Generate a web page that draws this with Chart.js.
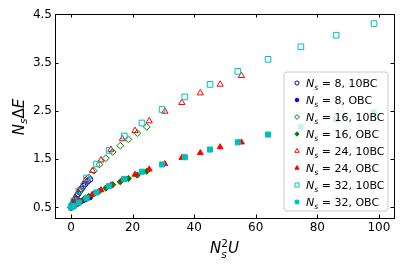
<!DOCTYPE html>
<html>
<head>
<meta charset="utf-8">
<script src="https://cdn.jsdelivr.net/npm/chart.js@4/dist/chart.umd.min.js"></script>
<style>
  html, body { margin: 0; padding: 0; background: #fff; }
  canvas { display: block; }
</style>
</head>
<body>
<canvas id="chart" width="407" height="271"></canvas>
<script>
// x = Ns^2 U for each system size
const x8 = [0.006, 0.058, 0.16, 0.31, 0.52, 0.77, 1.08, 1.44, 1.85, 2.31, 2.82, 3.39, 4.0, 4.67, 5.38, 6.15];
const x16 = [0.026, 0.23, 0.64, 1.25, 2.07, 3.10, 4.33, 5.76, 7.40, 9.24, 11.29, 13.54, 16.0, 18.66, 21.53, 24.6];
const x24 = [0.06, 0.52, 1.44, 2.82, 4.67, 6.97, 9.73, 12.96, 16.65, 20.79, 25.4, 30.47, 36.0, 41.99, 48.44, 55.35];
const x32 = [0.10, 0.92, 2.56, 5.02, 8.29, 12.39, 17.31, 23.04, 29.59, 36.97, 45.16, 54.17, 64.0, 74.65, 86.12, 98.41];

// Ns * dE, 10BC and OBC
const y8o = [0.50, 0.51, 0.52, 0.54, 0.57, 0.60, 0.64, 0.68, 0.73, 0.78, 0.83, 0.88, 0.94, 0.99, 1.04, 1.08];
const y8f = [0.50, 0.50, 0.51, 0.51, 0.52, 0.53, 0.54, 0.56, 0.57, 0.59, 0.61, 0.63, 0.65, 0.67, 0.69, 0.71];
const y16o = [0.50, 0.53, 0.58, 0.66, 0.76, 0.87, 0.99, 1.12, 1.26, 1.39, 1.52, 1.65, 1.78, 1.91, 2.04, 2.17];
const y16f = [0.50, 0.51, 0.53, 0.56, 0.59, 0.63, 0.68, 0.73, 0.78, 0.84, 0.90, 0.97, 1.03, 1.10, 1.17, 1.25];
const y24o = [0.51, 0.57, 0.70, 0.87, 1.06, 1.26, 1.48, 1.70, 1.92, 2.09, 2.29, 2.49, 2.67, 2.87, 3.05, 3.23];
const y24f = [0.50, 0.52, 0.56, 0.62, 0.69, 0.77, 0.86, 0.96, 1.07, 1.18, 1.29, 1.40, 1.53, 1.63, 1.75, 1.85];
const y32o = [0.52, 0.63, 0.84, 1.11, 1.40, 1.68, 1.98, 2.25, 2.53, 2.79, 3.05, 3.32, 3.57, 3.83, 4.07, 4.31];
const y32f = [0.50, 0.53, 0.60, 0.69, 0.81, 0.94, 1.09, 1.24, 1.39, 1.54, 1.70, 1.85, 2.01, 2.17, 2.32, 2.47];

const seriesNs = [8, 8, 16, 16, 24, 24, 32, 32];
const seriesBC = ['10BC', 'OBC', '10BC', 'OBC', '10BC', 'OBC', '10BC', 'OBC'];
const xTicks = [0, 20, 40, 60, 80, 100];
const yTicks = [0.5, 1.5, 2.5, 3.5, 4.5];

const FONT = '"DejaVu Sans", sans-serif';
const styles = [
  { shape: 'circle', color: '#0000ff', filled: false, r: 2.8 },
  { shape: 'circle', color: '#0000ff', filled: true, r: 2.5 },
  { shape: 'rectRot', color: '#008000', filled: false, r: 3.4 },
  { shape: 'rectRot', color: '#008000', filled: true, r: 3.1 },
  { shape: 'triangle', color: '#ff0000', filled: false, r: 3.6 },
  { shape: 'triangle', color: '#ff0000', filled: true, r: 3.4 },
  { shape: 'rect', color: '#00bfbf', filled: false, r: 4.0 },
  { shape: 'rect', color: '#00bfbf', filled: true, r: 3.6 }
];

const xsList = [x8, x8, x16, x16, x24, x24, x32, x32];
const ysList = [y8o, y8f, y16o, y16f, y24o, y24f, y32o, y32f];

const datasets = ysList.map((ys, i) => {
  const st = styles[i];
  return {
    data: xsList[i].map((x, j) => ({ x: x, y: ys[j] })),
    pointStyle: st.shape,
    pointRadius: st.r,
    pointBorderWidth: 1,
    pointBorderColor: st.color,
    pointBackgroundColor: st.filled ? st.color : 'rgba(0,0,0,0)',
    order: 7 - i
  };
});

// simple mathtext-like rendering
function partFont(p, size) {
  return (p.it ? 'italic ' : '') + (size * (p.scale || 1)) + 'px ' + FONT;
}

function layoutParts(ctx, parts, size) {
  let x = 0, total = 0;
  const items = [];
  for (const p of parts) {
    ctx.font = partFont(p, size);
    const w = ctx.measureText(p.t).width;
    items.push({ p: p, x: x, w: w });
    if (!p.hold) x += w;
    total = Math.max(total, p.hold ? x + w : x);
  }
  return { items: items, width: total };
}

function drawParts(ctx, parts, x, y, size, center) {
  const lay = layoutParts(ctx, parts, size);
  const x0 = center ? x - lay.width / 2 : x;
  ctx.textBaseline = 'alphabetic';
  ctx.textAlign = 'left';
  for (const it of lay.items) {
    ctx.font = partFont(it.p, size);
    ctx.fillText(it.p.t, x0 + it.x, y + (it.p.dy || 0) * size);
  }
}

function drawMarker(ctx, st, x, y, r) {
  ctx.beginPath();
  if (st.shape === 'circle') {
    ctx.arc(x, y, r, 0, Math.PI * 2);
  } else if (st.shape === 'rect') {
    const s = r * Math.SQRT1_2;
    ctx.rect(x - s, y - s, 2 * s, 2 * s);
  } else if (st.shape === 'rectRot') {
    ctx.moveTo(x - r, y); ctx.lineTo(x, y - r); ctx.lineTo(x + r, y); ctx.lineTo(x, y + r);
    ctx.closePath();
  } else if (st.shape === 'triangle') {
    ctx.moveTo(x, y - r);
    ctx.lineTo(x + r * 0.866, y + r * 0.5);
    ctx.lineTo(x - r * 0.866, y + r * 0.5);
    ctx.closePath();
  }
  ctx.lineWidth = 1;
  ctx.strokeStyle = st.color;
  if (st.filled) { ctx.fillStyle = st.color; ctx.fill(); }
  ctx.stroke();
}

const decor = {
  id: 'decor',
  afterDatasetsDraw(chart) {
    const { ctx, chartArea: a, scales: { x, y } } = chart;
    const tl = 3.5;
    ctx.save();
    ctx.strokeStyle = '#000';
    ctx.lineWidth = 1;
    ctx.strokeRect(a.left + 0.5, a.top + 0.5, a.right - a.left, a.bottom - a.top);
    ctx.beginPath();
    xTicks.forEach(v => {
      const px = Math.round(x.getPixelForValue(v)) + 0.5;
      ctx.moveTo(px, a.bottom); ctx.lineTo(px, a.bottom - tl);
      ctx.moveTo(px, a.top); ctx.lineTo(px, a.top + tl);
    });
    yTicks.forEach(v => {
      const py = Math.round(y.getPixelForValue(v)) + 0.5;
      ctx.moveTo(a.left, py); ctx.lineTo(a.left + tl, py);
      ctx.moveTo(a.right, py); ctx.lineTo(a.right - tl, py);
    });
    ctx.stroke();
    ctx.restore();
  },
  afterDraw(chart) {
    const { ctx, chartArea: a } = chart;
    ctx.save();
    ctx.fillStyle = '#000';

    // axis titles
    drawParts(ctx, [
      { t: 'N', it: true },
      { t: 's', it: true, scale: 0.7, hold: true, dy: 0.3 },
      { t: '2', scale: 0.7, dy: -0.42 },
      { t: 'U', it: true }
    ], (a.left + a.right) / 2, 253, 15, true);

    ctx.save();
    ctx.translate(24, (a.top + a.bottom) / 2 + 1);
    ctx.rotate(-Math.PI / 2);
    drawParts(ctx, [
      { t: 'N', it: true },
      { t: 's', it: true, scale: 0.7, dy: 0.22 },
      { t: '\u0394' },
      { t: 'E', it: true }
    ], 0, 0, 15, true);
    ctx.restore();

    // legend
    const bx = 284, by = 72, bw = 104, bh = 139, rr = 3;
    ctx.beginPath();
    ctx.moveTo(bx + rr, by);
    ctx.arcTo(bx + bw, by, bx + bw, by + bh, rr);
    ctx.arcTo(bx + bw, by + bh, bx, by + bh, rr);
    ctx.arcTo(bx, by + bh, bx, by, rr);
    ctx.arcTo(bx, by, bx + bw, by, rr);
    ctx.closePath();
    ctx.fillStyle = 'rgba(255,255,255,0.8)';
    ctx.fill();
    ctx.strokeStyle = '#cccccc';
    ctx.lineWidth = 1;
    ctx.stroke();

    seriesNs.forEach((ns, i) => {
      const cy = 83 + 17 * i;
      drawMarker(ctx, styles[i], 297, cy, styles[i].r * 0.72);
      ctx.fillStyle = '#000';
      drawParts(ctx, [
        { t: 'N', it: true },
        { t: 's', it: true, scale: 0.7, dy: 0.25 },
        { t: ' = ' + ns },
        { t: ', ' + seriesBC[i] }
      ], 306, cy + 4, 11, false);
    });
    ctx.restore();
  }
};

new Chart(document.getElementById('chart'), {
  type: 'scatter',
  data: { datasets: datasets },
  options: {
    responsive: false,
    animation: false,
    events: [],
    layout: { padding: { left: 0, right: 13, top: 14, bottom: 0 } },
    plugins: { legend: { display: false }, tooltip: { enabled: false } },
    scales: {
      x: {
        type: 'linear',
        min: -5.2,
        max: 104.9,
        afterBuildTicks: s => { s.ticks = xTicks.map(v => ({ value: v })); },
        afterFit: s => { s.height = 53; },
        grid: { display: false, drawTicks: false },
        border: { display: false },
        ticks: { font: { family: FONT, size: 12 }, color: '#000', padding: 3, maxRotation: 0, callback: v => String(v) }
      },
      y: {
        type: 'linear',
        min: 0.28,
        max: 4.51,
        afterBuildTicks: s => { s.ticks = yTicks.map(v => ({ value: v })); },
        afterFit: s => { s.width = 55; },
        grid: { display: false, drawTicks: false },
        border: { display: false },
        ticks: { font: { family: FONT, size: 12 }, color: '#000', padding: 3, callback: v => v.toFixed(1) }
      }
    }
  },
  plugins: [decor]
});
</script>
</body>
</html>
